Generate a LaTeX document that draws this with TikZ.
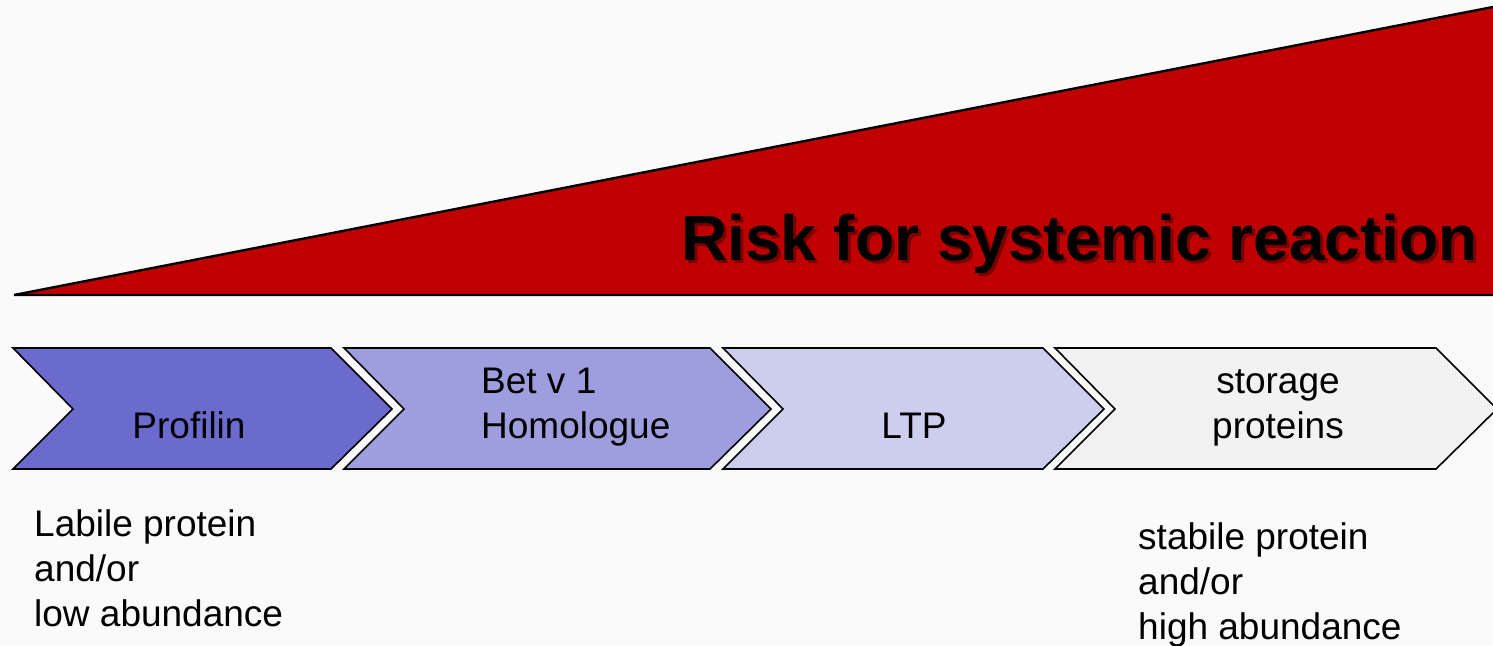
\documentclass[tikz,border=0pt]{standalone}
\usepackage{fontspec}
\setmainfont{Liberation Sans}
\definecolor{bgc}{RGB}{250,250,250}
\definecolor{riskred}{RGB}{192,0,0}
\definecolor{shadowred}{RGB}{90,0,0}
\definecolor{cA}{RGB}{107,107,205}
\definecolor{cB}{RGB}{158,158,222}
\definecolor{cC}{RGB}{205,205,238}
\definecolor{cD}{RGB}{242,242,242}
\begin{document}
\begin{tikzpicture}[x=1pt,y=-1pt,
  chevbox/.style={draw=black,line width=1.6pt,line join=miter},
  lbl/.style={inner sep=0pt,font=\fontsize{37}{45}\selectfont,align=left},
  clbl/.style={inner sep=0pt,font=\fontsize{37}{45}\selectfont,align=center},
  titletext/.style={inner sep=0pt,font=\fontsize{64}{70}\selectfont\bfseries}]
\fill[bgc] (0,0) rectangle (1493,645);
\useasboundingbox (0,0) rectangle (1493,645);
% risk wedge
\fill[riskred] (14,295) -- (1493,7) -- (1493,295) -- cycle;
\draw[line width=2.4pt,line join=miter] (1495,6.6) -- (14,295) -- (1495,295);
\node[titletext,anchor=base east,text=shadowred,opacity=0.7] (titleshadow) at (1481,263) {Risk for systemic reaction};
\node[titletext,anchor=base east] (title) at (1478,260) {Risk for systemic reaction};
% chevrons
\newcommand{\mychev}[3]{%
  \path[chevbox,fill=#3] (#1,348) -- (#2,348) -- ({#2+61},409) -- (#2,469) -- (#1,469) -- ({#1+60},409) -- cycle;}
\mychev{13}{331}{cA}
\mychev{344}{710}{cB}
\mychev{723}{1043}{cC}
\mychev{1055}{1436}{cD}
% labels (base anchor = baseline of last line)
\node[clbl,anchor=base] (profilin) at (189,438) {Profilin};
\node[lbl,anchor=base west] (betv) at (481,438) {Bet v 1\\Homologue};
\node[clbl,anchor=base] (ltp) at (914,438) {LTP};
\node[clbl,anchor=base] (storage) at (1278,438) {storage\\proteins};
\node[lbl,anchor=base west] (labile) at (34,626) {Labile protein\\and/or\\low abundance};
\node[lbl,anchor=base west] (stabile) at (1138,639) {stabile protein\\and/or\\high abundance};
\end{tikzpicture}
\end{document}
